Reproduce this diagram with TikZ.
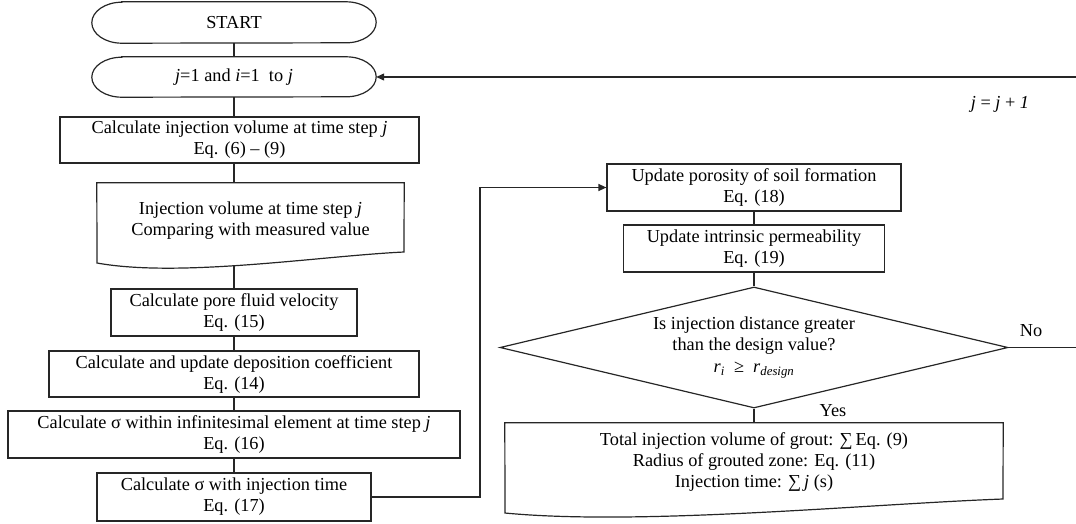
\documentclass[tikz,border=0pt]{standalone}
\usepackage{fontspec}
\setmainfont{Liberation Serif}
\usetikzlibrary{arrows.meta,shapes.geometric}
\begin{document}
\begin{tikzpicture}[x=1pt,y=1pt,
  every node/.style={font=\fontsize{18.3pt}{21pt}\selectfont, text=black, inner sep=0pt},
  ln/.style={line width=1.2pt, draw=black!85},
  box/.style={ln, draw, rectangle, align=center},
  plain/.style={align=center},
  arr/.style={ln, -{Triangle[length=8pt,width=7pt]}},
]
\useasboundingbox (0,0) rectangle (1076,-523);

% nodes
\node[plain, minimum width=284pt, minimum height=41pt] (start) at (234,-22.5) {START};
\node[plain, minimum width=284pt, minimum height=40pt] (init) at (234,-77) {\textit{j}=1 and \textit{i}=1\ \ to \textit{j}};
\node[box, minimum width=359pt, minimum height=46pt] (b1) at (239.5,-140) {Calculate injection volume at time step \textit{j}\\Eq. (6) – (9)};
\node[plain, minimum width=307pt, minimum height=75pt] (doc1) at (250.5,-220.5) {Injection volume at time step \textit{j}\\Comparing with measured value};
\node[box, minimum width=246pt, minimum height=47pt] (pore) at (234,-312.5) {Calculate pore fluid velocity\\Eq. (15)};
\node[box, minimum width=370pt, minimum height=46pt] (dep) at (234,-374) {Calculate and update deposition coefficient\\Eq. (14)};
\node[box, minimum width=452pt, minimum height=47pt] (sig) at (234,-434.5) {Calculate σ within infinitesimal element at time step \textit{j}\\Eq. (16)};
\node[box, minimum width=274pt, minimum height=48pt] (sigt) at (234,-497) {Calculate σ with injection time\\Eq. (17)};
\node[box, minimum width=294pt, minimum height=47pt] (por) at (754,-187.5) {Update porosity of soil formation\\Eq. (18)};
\node[box, minimum width=261pt, minimum height=47pt] (perm) at (754,-248.5) {Update intrinsic permeability\\Eq. (19)};
\node[ln, draw, diamond, shape aspect=4.2, minimum width=508pt, minimum height=121pt, align=center] (dia) at (754,-347.5) {Is injection distance greater\\than the design value?\\[1pt]\textit{r}\textsubscript{\textit{i}}\ \ ≥\ \ \textit{r}\textsubscript{\textit{design}}};
\node[plain, minimum width=498pt, minimum height=78pt] (res) at (754,-462) {Total injection volume of grout: ∑\,Eq. (9)\\Radius of grouted zone: Eq. (11)\\Injection time: ∑\,\textit{j} (s)};

% outlines of terminals and documents
\foreach \n/\r in {start/20.5, init/20} {
  \draw[ln] ([xshift=30pt]\n.north west) -- ([xshift=-30pt]\n.north east)
    arc[start angle=90,end angle=-90,x radius=30pt,y radius=\r pt]
    -- ([xshift=30pt]\n.south west)
    arc[start angle=270,end angle=90,x radius=30pt,y radius=\r pt] -- cycle;
}
\draw[ln] (doc1.north west) -- (doc1.north east) -- (404,-252)
  .. controls (320,-256) and (180,-278) .. (97,-263) -- cycle;
\draw[ln] (res.north west) -- (res.north east) -- (1003,-499)
  .. controls (868,-504) and (640,-526) .. (505,-513) -- cycle;

% connectors
\draw[ln] (start) -- (init);
\draw[ln] (init.south) -- (init.south |- b1.north);
\draw[ln] (b1.south -| init.south) -- (doc1.north -| init.south);
\coordinate (d1b) at (234,-265.7);
\draw[ln] (d1b) -- (pore.north);
\draw[ln] (pore) -- (dep);
\draw[ln] (dep) -- (sig);
\draw[ln] (sig) -- (sigt);
\coordinate (c1) at (480,-187.5);
\draw[arr] (sigt.east) -| (c1) -- (por.west);
\draw[ln] (por) -- (perm);
\draw[ln] (perm) -- (dia);
\draw[ln] (dia) -- (res);
\coordinate (r1) at (1080,-347.5);
\coordinate (r2) at (1080,-77);
\draw[arr] (dia.east) -- (r1) -- (r2) -- (init.east);

% labels
\node (no) at (1031,-331) {No};
\node (yes) at (833,-411) {Yes};
\node (jinc) at (1000,-104) {\textit{j} = \textit{j} + \textit{1}};
\end{tikzpicture}
\end{document}
